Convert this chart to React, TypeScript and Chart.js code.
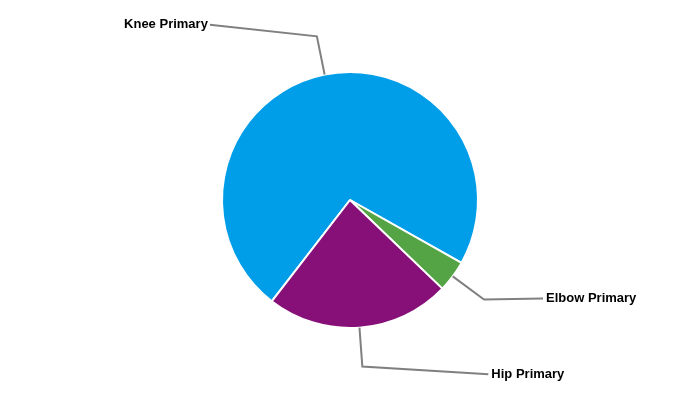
import React, { useEffect, useRef } from "react";
import { Chart, registerables } from "chart.js";

Chart.register(...registerables);

const categories = ["Knee Primary", "Elbow Primary", "Hip Primary"];
const values = [72.7, 4.0, 23.3];
const colors = ["#009EE9", "#54A344", "#870F78"];
// offset from leader-line elbow to label anchor, and text alignment
const labelOffsets = [
  { dx: -107, dy: -11.5, align: "right" },
  { dx: 59, dy: -1, align: "left" },
  { dx: 126, dy: 7.6, align: "left" },
];

const leaderPlugin = {
  id: "leaderLabels",
  afterDraw(chart: any) {
    const ctx = chart.ctx;
    const meta = chart.getDatasetMeta(0);
    ctx.save();
    meta.data.forEach((arc: any, i: number) => {
      const { x, y, startAngle, endAngle, outerRadius } = arc.getProps(
        ["x", "y", "startAngle", "endAngle", "outerRadius"],
        true
      );
      const mid = (startAngle + endAngle) / 2;
      const r = outerRadius;
      const cx = Math.cos(mid);
      const sy = Math.sin(mid);
      const p0x = x + r * cx;
      const p0y = y + r * sy;
      const p1x = x + (r + 39) * cx;
      const p1y = y + (r + 39) * sy;
      const off = labelOffsets[i];
      const p2x = p1x + off.dx;
      const p2y = p1y + off.dy;
      ctx.beginPath();
      ctx.moveTo(p0x, p0y);
      ctx.lineTo(p1x, p1y);
      ctx.lineTo(p2x, p2y);
      ctx.strokeStyle = "#808080";
      ctx.lineWidth = 2;
      ctx.lineJoin = "miter";
      ctx.stroke();
      ctx.font = "bold 13px 'Liberation Sans', Arial, sans-serif";
      ctx.fillStyle = "#000000";
      ctx.textBaseline = "middle";
      ctx.textAlign = off.align;
      const tx = off.align === "right" ? p2x - 2 : p2x + 3;
      ctx.fillText(categories[i], tx, p2y);
    });
    ctx.restore();
  },
};

export default function App() {
  const ref = useRef<HTMLCanvasElement | null>(null);
  useEffect(() => {
    if (!ref.current) return;
    const chart = new Chart(ref.current, {
      type: "pie",
      data: {
        labels: categories,
        datasets: [
          {
            data: values,
            backgroundColor: colors,
            borderColor: "#ffffff",
            borderWidth: 2,
            radius: 128,
          },
        ],
      },
      options: {
        responsive: false,
        animation: false,
        rotation: -142.3,
        layout: { padding: 0 },
        plugins: {
          legend: { display: false },
          tooltip: { enabled: false },
        },
      },
      plugins: [leaderPlugin],
    });
    return () => chart.destroy();
  }, []);
  return (
    <div style={{ position: "fixed", left: 0, top: 0, width: 700, height: 400, background: "#fff" }}>
      <canvas ref={ref} width={700} height={400} />
    </div>
  );
}
